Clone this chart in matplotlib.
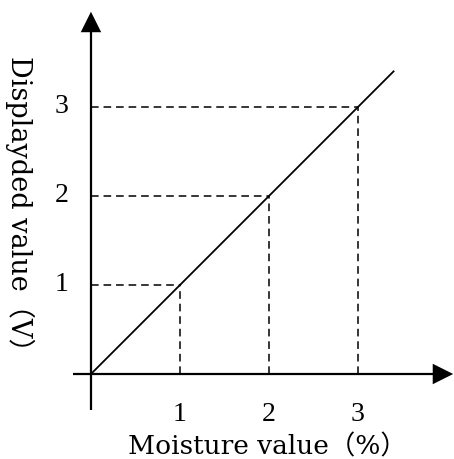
import matplotlib
matplotlib.use('Agg')
import matplotlib.pyplot as plt

# values
ticks = [1, 2, 3]
tick_labels = ['1', '2', '3']
line_x = [0, 3.4]
line_y = [0, 3.4]
xlabel = 'Moisture value（%）'
ylabel = 'Displayded value（V）'

num_fonts = ['Liberation Serif', 'DejaVu Serif']
lab_fonts = ['DejaVu Serif', 'Noto Sans CJK SC']

fig = plt.figure(figsize=(4.54, 4.59), dpi=100)
ax = fig.add_axes([0, 0, 1, 1])
ax.set_xlim(-1.022, 4.079)
ax.set_ylim(-0.955, 4.202)
ax.axis('off')

# axes with arrow heads
ax.plot([-0.2, 3.85], [0, 0], color='black', lw=1.6, solid_capstyle='butt')
ax.plot([0, 0], [-0.4, 3.85], color='black', lw=1.6, solid_capstyle='butt')
ax.fill([3.84, 4.07, 3.84], [-0.115, 0, 0.115], color='black', lw=0)
ax.fill([-0.115, 0, 0.115], [3.84, 4.07, 3.84], color='black', lw=0)

# the diagonal
ax.plot(line_x, line_y, color='black', lw=1.3)

# dashed guides
for t in ticks:
    ax.plot([0, t], [t, t], color='black', lw=1.1, dashes=(5, 3.2))
    ax.plot([t, t], [0, t], color='black', lw=1.1, dashes=(5, 3.2))

for t, lab in zip(ticks, tick_labels):
    ax.text(t, -0.45, lab, ha='center', va='center', fontsize=20, family=num_fonts)
    ax.text(-0.33, t, lab, ha='center', va='center', fontsize=20, family=num_fonts)

ax.text(1.98, -0.82, xlabel, ha='center', va='center', fontsize=19, family=lab_fonts)
ax.text(-0.8, 1.84, ylabel, ha='center', va='center', fontsize=19.5,
        rotation=270, family=lab_fonts)

fig.savefig('out.png', dpi=100)
